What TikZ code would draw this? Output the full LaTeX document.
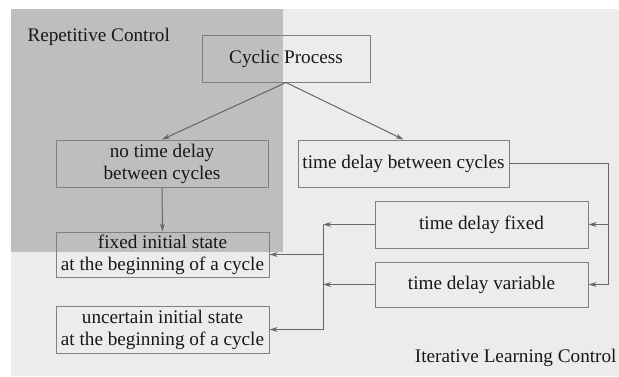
\documentclass[tikz,border=0pt]{standalone}
\usepackage{fontspec}
\setmainfont{Liberation Serif}
\usepackage{tikz}
\usepackage{xcolor}
\usetikzlibrary{arrows.meta}
\definecolor{darkbg}{RGB}{190, 190, 190}
\definecolor{lightbg}{RGB}{236, 236, 236}
\definecolor{linegray}{RGB}{128, 128, 128}
\definecolor{textgray}{RGB}{24, 24, 24}

\begin{document}
\begin{tikzpicture}[x = 0.5pt, y = -0.5pt, line width = 0.5pt,
  box/.style = {draw = linegray, text = textgray, align = center,
    font = \fontsize{9.6}{11}\selectfont, inner sep = 0pt},
  link/.style = {draw = linegray!80!black, -{Stealth[length = 4pt, width = 2.4pt]}},
  label/.style = {text = textgray, font = \fontsize{9.6}{11}\selectfont, inner sep = 0pt}]
\useasboundingbox (0,0) rectangle (619,376);
\clip (0,0) rectangle (619,376);
\fill[white] (0,0) rectangle (619,376);
\fill[fill = lightbg] (11,9) rectangle (619,376);
\fill[fill = darkbg] (11,9) rectangle (283,252);
\node[label, anchor = west] (rc) at (27,37) {Repetitive Control};
\node[label, anchor = east] (ilc) at (617,358) {Iterative Learning Control};
% boxes
\node[box, minimum width = 84pt, minimum height = 23.5pt] (cyc) at (286,58.5) {Cyclic Process};
\node[box, minimum width = 106pt, minimum height = 23.5pt] (nodelay) at (162,163.5) {no time delay\\between cycles};
\node[box, minimum width = 105.5pt, minimum height = 23.5pt] (delay) at (403.5,163.5) {time delay between cycles};
\node[box, minimum width = 106.5pt, minimum height = 22.5pt] (fixst) at (162.5,254.5) {fixed initial state\\ at the beginning of a cycle};
\node[box, minimum width = 106.5pt, minimum height = 23.5pt] (uncst) at (162.5,329.5) {uncertain initial state\\ at the beginning of a cycle};
\node[box, minimum width = 106.5pt, minimum height = 23.5pt] (dfix) at (481.5,224.5) {time delay fixed};
\node[box, minimum width = 106.5pt, minimum height = 22.5pt] (dvar) at (481.5,284.5) {time delay variable};
% connectors
\coordinate (rb) at (608,284.5);
\coordinate (lb) at (323,224.5);
\draw[link] (cyc.south) -- (nodelay.north);
\draw[link] (cyc.south) -- (delay.north);
\draw[link] (nodelay.south) -- (fixst.north);
\draw[link] (delay.east) -| (rb) -- (dvar.east);
\draw[link] (dfix.east -| rb) -- (dfix.east);
\draw[link] (dfix.west) -- (lb);
\draw[link] (dvar.west) -- (dvar.west -| lb);
\draw[draw = linegray!80!black] (lb) -- (lb |- uncst.east);
\draw[link] (lb |- fixst.east) -- (fixst.east);
\draw[link] (lb |- uncst.east) -- (uncst.east);
\end{tikzpicture}
\end{document}
